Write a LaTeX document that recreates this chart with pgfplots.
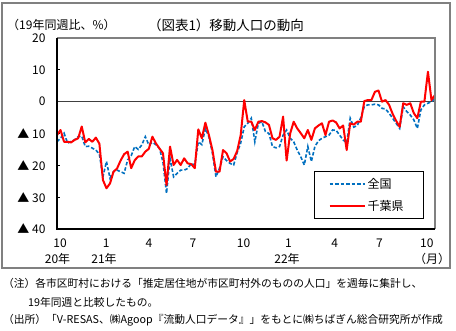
\documentclass[border=0pt]{standalone}
\usepackage{fontspec}
\setmainfont{Noto Sans CJK JP}
\usepackage{pgfplots}
\usepackage{pgfplotstable}
\pgfplotsset{compat=1.18}
\definecolor{zblue}{RGB}{0,112,192}
\definecolor{framegray}{RGB}{128,128,128}
\definecolor{zerogray}{RGB}{64,64,64}
\pgfplotstableread{
w zen chiba
0 -12.6 -10.5
1 -11.5 -8.9
2 -9.9 -12.6
3 -13.0 -12.6
4 -12.5 -12.8
5 -12.0 -12.0
6 -11.0 -11.5
7 -10.8 -7.8
8 -14.1 -12.8
9 -14.0 -11.7
10 -14.6 -12.6
11 -15.2 -11.3
12 -16.5 -13.2
13 -23.6 -24.6
14 -18.8 -27.2
15 -24.0 -25.7
16 -22.0 -22.0
17 -21.5 -21.0
18 -22.0 -18.5
19 -22.5 -16.5
20 -18.3 -15.7
21 -17.0 -20.9
22 -14.1 -18.4
23 -15.0 -17.2
24 -13.6 -17.2
25 -11.0 -15.7
26 -13.6 -14.8
27 -12.8 -11.0
28 -13.5 -13.1
29 -14.6 -14.7
30 -19.0 -16.2
31 -28.8 -26.2
32 -17.8 -14.1
33 -23.6 -19.9
34 -22.5 -18.3
35 -21.5 -19.9
36 -21.5 -17.8
37 -21.0 -19.4
38 -19.4 -19.6
39 -19.9 -20.9
40 -12.6 -8.7
41 -13.5 -11.5
42 -8.4 -6.6
43 -11.0 -10.5
44 -16.2 -15.2
45 -23.6 -22.0
46 -20.9 -22.0
47 -17.3 -15.2
48 -18.5 -16.2
49 -19.4 -18.8
50 -19.9 -18.0
51 -16.0 -15.5
52 -13.0 -10.5
53 -7.9 0.5
54 -6.8 -6.3
55 -5.2 -6.3
56 -12.6 -8.9
57 -6.8 -6.3
58 -6.3 -6.1
59 -9.4 -6.5
60 -10.0 -7.3
61 -14.1 -11.5
62 -14.5 -12.0
63 -14.1 -11.0
64 -10.5 -4.7
65 -8.9 -18.5
66 -11.5 -10.0
67 -12.6 -6.3
68 -15.2 -8.4
69 -17.3 -9.9
70 -19.9 -11.5
71 -14.1 -8.9
72 -18.8 -12.0
73 -14.1 -8.4
74 -12.3 -7.5
75 -11.5 -6.8
76 -11.0 -10.5
77 -10.5 -6.3
78 -8.9 -5.9
79 -9.0 -6.5
80 -10.5 -8.4
81 -12.0 -7.5
82 -13.0 -15.2
83 -5.2 -6.8
84 -8.0 -7.2
85 -7.5 -6.3
86 -5.0 -6.3
87 -1.5 0.2
88 -1.0 0.5
89 -1.0 0.5
90 -0.8 3.1
91 -1.0 3.5
92 -2.1 0.0
93 -2.3 0.5
94 -3.6 -1.0
95 -5.2 -3.8
96 -6.8 -6.0
97 -8.4 -7.9
98 -1.6 -0.5
99 -3.1 -1.0
100 -4.2 -0.5
101 -5.7 -3.6
102 -8.4 -5.2
103 -2.6 0.0
104 -1.0 0.0
105 -0.5 9.4
106 0.0 0.5
107 1.0 2.1
}\datatable
\begin{document}
\begin{tikzpicture}
\path[use as bounding box] (0,0) rectangle (456pt,-330pt);
\fill[white] (0,0) rectangle (456pt,-330pt);
\draw[framegray, line width=1.3pt] (2pt,-3pt) rectangle (450pt,-268pt);
\node[font=\fontsize{12}{14}\selectfont, anchor=west, inner sep=0pt] at (7pt,-25pt) {（19年同週比、\%）};
\node[font=\fontsize{13.5}{16}\selectfont, inner sep=0pt] at (226pt,-25pt) {（図表1）移動人口の動向};
\begin{axis}[
  at={(57pt,-229pt)}, anchor=south west,
  scale only axis, width=378pt, height=191pt,
  xmin=0, xmax=107, ymin=-40, ymax=20,
  axis line style={draw=none},
  ytick={-40,-30,-20,-10,0,10,20},
  yticklabels={▲ 40,▲ 30,▲ 20,▲ 10,0,10,20},
  xtick={0.85,13.9,26,38.5,52.8,65.5,78.6,91.3,104.7},
  xticklabels={10,1,4,7,10,1,4,7,10},
  ytick pos=left, xtick pos=bottom,
  tick align=inside,
  major tick length=3pt,
  y tick style={black, line width=0.8pt},
  x tick style={draw=none},
  yticklabel style={font=\fontsize{12}{14}\selectfont, anchor=east, xshift=-8pt},
  xticklabel style={font=\fontsize{12}{14}\selectfont, yshift=-6pt},
  legend style={at={(0.971,0.052)}, anchor=south east, draw=black, line width=0.8pt,
    font=\fontsize{12}{14}\selectfont, inner xsep=14pt, inner ysep=5pt, row sep=6pt,
    nodes={text width=40pt, align=left}},
  legend cell align=left,
  legend image code/.code={\draw[#1, line width=2pt] (0pt,0pt) -- (35pt,0pt);},
  clip=false,
]
\addplot[zerogray, line width=1pt, forget plot] coordinates {(0,0) (107,0)};
\addplot[zblue, line width=1.6pt, dash pattern=on 3.5pt off 2pt] table[x=w, y=zen] {\datatable};
\addlegendentry{全国}
\addplot[red, line width=2pt, line join=round] table[x=w, y=chiba] {\datatable};
\addlegendentry{千葉県}
\draw[framegray, line width=1.2pt] (rel axis cs:0,1) -- (rel axis cs:1,1) -- (rel axis cs:1,0);
\draw[black, line width=1.5pt] (rel axis cs:0,1) -- (rel axis cs:0,0) -- (rel axis cs:1,0);
\end{axis}
\node[font=\fontsize{12}{14}\selectfont] at (57.5pt,-259pt) {20年};
\node[font=\fontsize{12}{14}\selectfont] at (104pt,-259pt) {21年};
\node[font=\fontsize{12}{14}\selectfont] at (287pt,-259pt) {22年};
\node[font=\fontsize{12}{14}\selectfont] at (432pt,-259pt) {（月）};
\node[font=\fontsize{10.75}{12}\selectfont, anchor=west, inner sep=0pt] at (3pt,-283pt) {（注）各市区町村における「推定居住地が市区町村外のものの人口」を週毎に集計し、};
\node[font=\fontsize{10.75}{12}\selectfont, anchor=west, inner sep=0pt] at (28pt,-302pt) {19年同週と比較したもの。};
\node[font=\fontsize{10.75}{12}\selectfont, anchor=west, inner sep=0pt] at (3pt,-320pt) {（出所）「V-RESAS、㈱Agoop『流動人口データ』」をもとに㈱ちばぎん総合研究所が作成};
\end{tikzpicture}
\end{document}
